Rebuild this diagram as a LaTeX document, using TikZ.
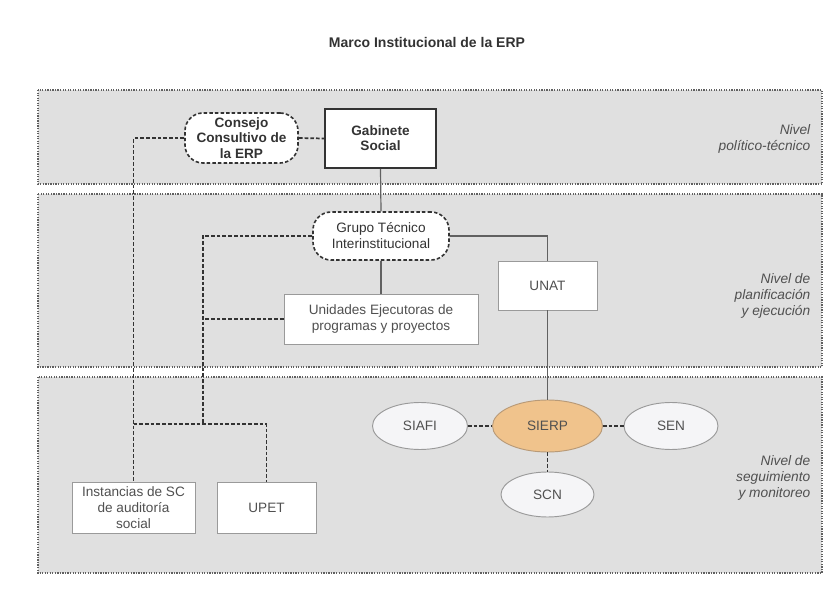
\documentclass[tikz,border=0pt]{standalone}
\usepackage{fontspec}
\setmainfont{Liberation Sans}
\usetikzlibrary{shapes.geometric}
\definecolor{bandfill}{HTML}{E0E0E0}
\definecolor{bandline}{HTML}{606060}
\definecolor{txt}{HTML}{333333}
\definecolor{txtl}{HTML}{505050}
\definecolor{conn}{HTML}{333333}
\definecolor{boxline}{HTML}{9A9A9A}
\definecolor{orangefill}{HTML}{F0C38C}
\definecolor{orangeline}{HTML}{B89A78}
\definecolor{ellfill}{HTML}{F5F5F7}
\newcommand{\pxu}{0.75pt}
\tikzset{
  band/.style={draw=bandline, fill=bandfill, densely dotted, line width=0.9pt},
  bandlabel/.style={anchor=east, align=right, text=txtl, font=\fontsize{10.3}{11.8}\selectfont\itshape},
  dashround/.style={draw=conn, fill=white, dash pattern=on 2.6pt off 1.6pt, line width=1.2pt, rounded corners=18*\pxu, align=center, text=txt, inner sep=0pt},
  gabbox/.style={draw=conn, fill=white, line width=1.3pt, align=center, text=txt, inner sep=0pt},
  plainbox/.style={draw=boxline, fill=white, line width=0.7pt, align=center, text=txtl, inner sep=0pt},
  ellnode/.style={ellipse, draw=boxline, fill=ellfill, line width=0.7pt, text=txtl, inner sep=0pt},
  dconn/.style={draw=conn, dash pattern=on 2.8pt off 1.5pt, line width=1.3pt},
  sconn/.style={draw=black!62, line width=0.9pt},
  nt/.style={font=\fontsize{10.2}{12}\selectfont},
  bt/.style={font=\fontsize{10.2}{11.4}\selectfont\bfseries}
}
\begin{document}
\begin{tikzpicture}[x=0.75pt,y=-0.75pt]
\useasboundingbox (0,0) rectangle (833,599);
\fill[white] (0,0) rectangle (833,599);

% title
\node[font=\fontsize{10.5}{12}\selectfont\bfseries, text=txt] (title) at (427,42) {Marco Institucional de la ERP};

% bands
\draw[band] (38,90) rectangle (822,184);
\draw[band] (38,194) rectangle (822,367);
\draw[band] (38,377) rectangle (822,573);

\node[bandlabel] (l1) at (815,139) {Nivel\\político-técnico};
\node[bandlabel] (l2) at (815,296) {Nivel de\\planificación\\y ejecución};
\node[bandlabel] (l3) at (815,478) {Nivel de\\seguimiento\\y monitoreo};

% nodes
\node[dashround, bt, minimum width=113*\pxu, minimum height=50*\pxu] (cons) at (241.5,138) {Consejo\\Consultivo de\\la ERP};
\node[gabbox, bt, minimum width=111*\pxu, minimum height=59*\pxu] (gab) at (380.5,138.5) {Gabinete\\Social};
\node[dashround, nt, minimum width=136*\pxu, minimum height=48*\pxu] (grp) at (381,236) {Grupo Técnico\\Interinstitucional};
\node[plainbox, nt, minimum width=194*\pxu, minimum height=50*\pxu] (uni) at (381,319) {Unidades Ejecutoras de\\programas y proyectos};
\node[plainbox, nt, minimum width=99*\pxu, minimum height=49*\pxu] (unat) at (547.5,285.5) {UNAT};
\node[plainbox, nt, minimum width=123*\pxu, minimum height=51*\pxu] (inst) at (133.5,507.5) {Instancias de SC\\de auditoría\\social};
\node[plainbox, nt, minimum width=99*\pxu, minimum height=51*\pxu] (upet) at (266.5,507.5) {UPET};

\node[ellnode, nt, fill=orangefill, draw=orangeline, minimum width=110*\pxu, minimum height=52*\pxu] (sierp) at (547.5,426) {SIERP};
\node[ellnode, nt, minimum width=95*\pxu, minimum height=47*\pxu] (siafi) at (420,426) {SIAFI};
\node[ellnode, nt, minimum width=94*\pxu, minimum height=47*\pxu] (sen) at (671,426) {SEN};
\node[ellnode, nt, minimum width=93*\pxu, minimum height=45*\pxu] (scn) at (547.5,494.5) {SCN};

\coordinate (j1) at (203,424);

% solid connectors
\draw[sconn] (gab.south) -- (grp.north);
\draw[sconn] (grp.south) -- (uni.north);
\draw[sconn] (grp.east) -| (unat.north);
\draw[sconn] (unat.south) -- (sierp.north);

% dashed connectors
\draw[dconn] (cons.east) -- (gab.west);
\draw[dconn] (cons.west) -| (inst.north);
\draw[dconn] (grp.west) -| (j1);
\draw[dconn] (uni.west) -- (uni.west -| j1);
\draw[dconn] (inst.north |- j1) -| (upet.north);
\draw[dconn] (siafi.east) -- (sierp.west);
\draw[dconn] (sierp.east) -- (sen.west);
\draw[dconn] (sierp.south) -- (scn.north);
\end{tikzpicture}
\end{document}
